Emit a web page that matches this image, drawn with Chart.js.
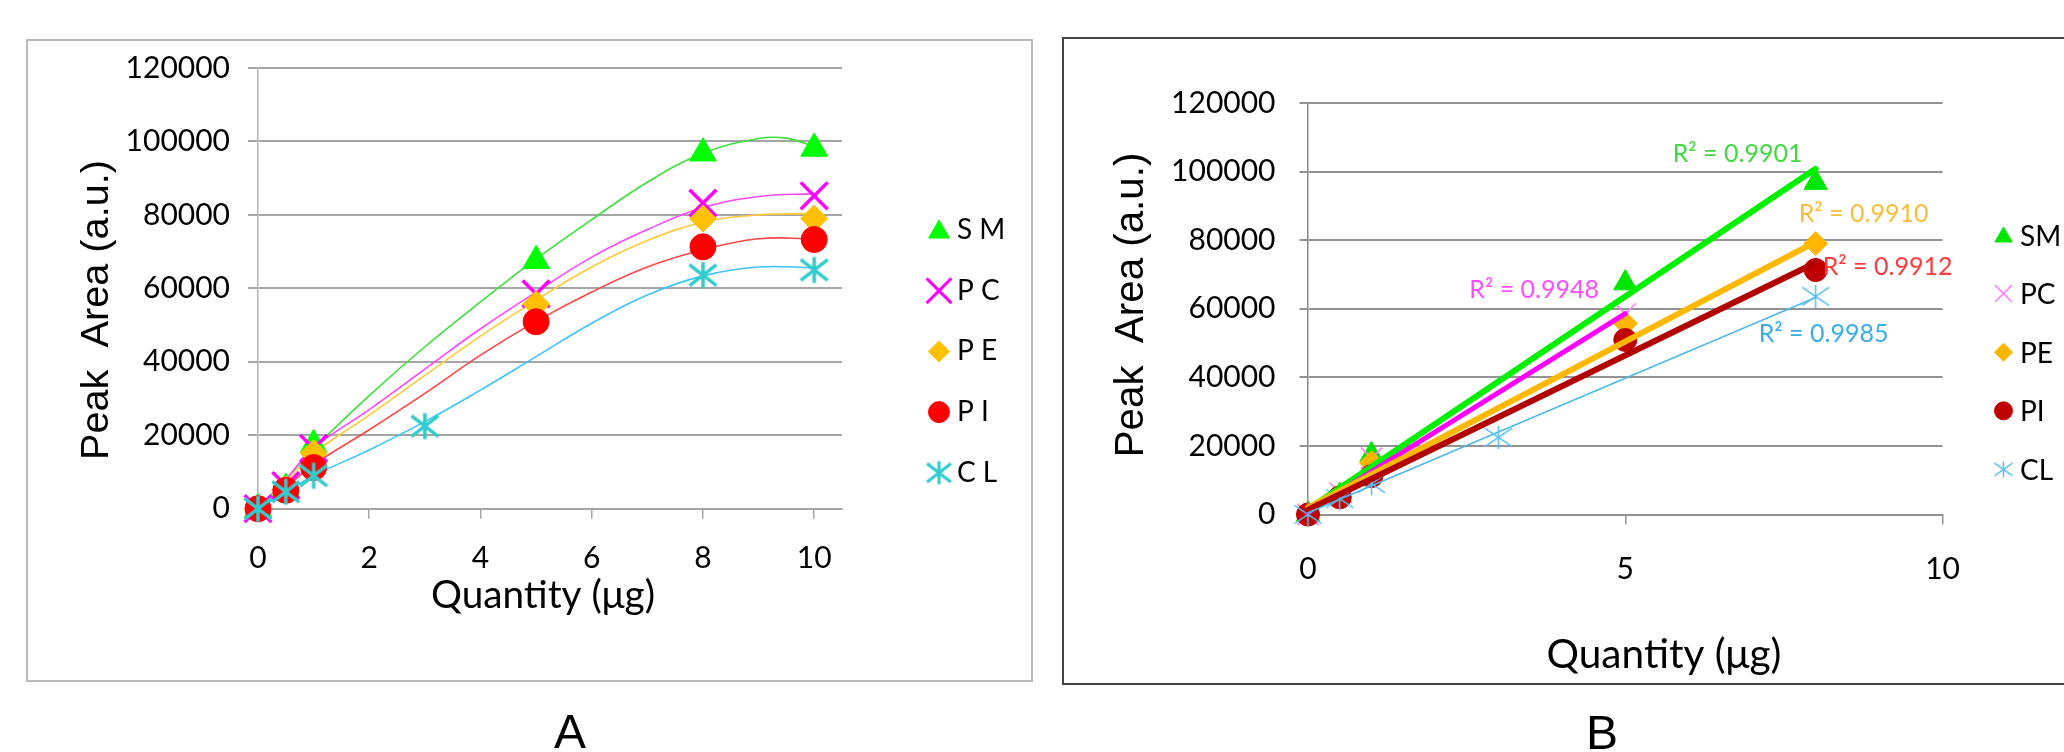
<!DOCTYPE html>
<html lang="en">
<head>
<meta charset="utf-8">
<title>Peak area vs quantity</title>
<script src="https://cdn.jsdelivr.net/npm/chart.js@4.4.1/dist/chart.umd.min.js"></script>
<style>
  html, body { margin: 0; padding: 0; background: #fff; }
  body { width: 2064px; height: 752px; position: relative; overflow: hidden; font-family: "Liberation Sans", Arial, sans-serif; }
  .frame { position: absolute; box-sizing: border-box; }
  #frameA { left: 26px; top: 39px; width: 1007px; height: 643px; border: 2px solid #b9b9b9; }
  #frameB { left: 1062px; top: 37px; width: 1100px; height: 648px; border: 2px solid #444; }
  canvas { position: absolute; top: 0; }
  #chartA { left: 0; }
  #chartB { left: 1040px; }
  .tag { position: absolute; font-size: 48px; line-height: 48px; color: #000; }
</style>
</head>
<body>
  <div class="frame" id="frameA"></div>
  <div class="frame" id="frameB"></div>
  <canvas id="chartA" width="1040" height="752"></canvas>
  <canvas id="chartB" width="1024" height="752"></canvas>
  <div class="tag" style="left:520px; width:100px; text-align:center; top:708px;">A</div>
  <div class="tag" style="left:1586px; top:709px;">B</div>

<script>
// ---- values ----
const names = ['SM', 'PC', 'PE', 'PI', 'CL'];
const legendA = ['S M', 'P C', 'P E', 'P I', 'C L'];

const qtyA = [0, 0.5, 1, 5, 8, 10];      // SM, PC, PE, PI
const qtyCL = [0, 0.5, 1, 3, 8, 10];
const smArea = [0, 5500, 17400, 67500, 96800, 98100];
const pcArea = [0, 6300, 16400, 58500, 83200, 85200];
const peArea = [0, 5300, 15100, 55700, 79000, 79000];
const piArea = [0, 5000, 11200, 50900, 71300, 73300];
const clArea = [0, 4600, 9000, 22500, 63600, 65000];

// fitted curves of panel A, sampled from the figure
const smCurveX = [0, 0.5, 1, 2, 3, 4, 5, 6, 7, 8, 9, 9.5, 10];
const smCurve = [0, 8000, 16300, 30800, 44100, 56300, 68000, 78700, 88900, 96800, 100800, 100900, 98600];
const curveX = [0, 0.5, 1, 2, 3, 4, 5, 6, 7, 8, 9, 10];
const pcCurve = [0, 8000, 16500, 27000, 38000, 49000, 59000, 68500, 76000, 82000, 85000, 85800];
const peCurve = [0, 7300, 15000, 25500, 36300, 47000, 56800, 65800, 73000, 78000, 80000, 80300];
const piCurve = [0, 5800, 12000, 21500, 31400, 41800, 51000, 59000, 65800, 70500, 73500, 73500];
const clCurve = [0, 4500, 9000, 16000, 23700, 32300, 41400, 50500, 58200, 63400, 65800, 65600];

// panel B: points up to 8 µg and the linear trend lines
const qtyB = [0, 0.5, 1, 5, 8];
const qtyPcB = [0, 0.5, 1, 5];
const qtyClB = [0, 0.5, 1, 3, 8];
const smTrendX = [0, 8], smTrend = [1500, 100800];
const pcTrendX = [0, 5], pcTrend = [1000, 58600];
const peTrendX = [0, 8], peTrend = [2000, 79500];
const piTrendX = [0, 8], piTrend = [1400, 73400];
const clTrendX = [0, 8], clTrend = [500, 63300];
const r2Text = ['R\u00b2 = 0.9901', 'R\u00b2 = 0.9948', 'R\u00b2 = 0.9910', 'R\u00b2 = 0.9912', 'R\u00b2 = 0.9985'];

const yTicks = [0, 20000, 40000, 60000, 80000, 100000, 120000];
const xTicksA = [0, 2, 4, 6, 8, 10];
const xTicksB = [0, 5, 10];

const pts = (xs, ys) => xs.map((x, i) => ({ x: x, y: ys[i] }));

// 6-spoke asterisk marker (vertical bar + X)
function asterisk(w, h, color, lw) {
  const c = document.createElement('canvas');
  c.width = Math.ceil(w + lw * 2);
  c.height = Math.ceil(h + lw * 2);
  const g = c.getContext('2d');
  const cx = c.width / 2, cy = c.height / 2;
  g.strokeStyle = color;
  g.lineWidth = lw;
  g.beginPath();
  g.moveTo(cx, cy - h / 2); g.lineTo(cx, cy + h / 2);
  g.moveTo(cx - w / 2, cy - h * 0.4); g.lineTo(cx + w / 2, cy + h * 0.4);
  g.moveTo(cx + w / 2, cy - h * 0.4); g.lineTo(cx - w / 2, cy + h * 0.4);
  g.stroke();
  return c;
}

// pick a font size so that the text spans the wanted width
function fitFont(ctx, t) {
  ctx.font = t.size + 'px ' + t.family;
  const w = ctx.measureText(t.text).width;
  if (t.width && w > 0) ctx.font = (t.size * t.width / w).toFixed(1) + 'px ' + t.family;
}

// titles, legend and R² labels drawn on the canvas
function decor(cfg) {
  return {
    id: 'decor',
    afterDatasetsDraw(chart) {
      const ctx = chart.ctx;
      ctx.save();
      ctx.fillStyle = '#000';
      ctx.textBaseline = 'alphabetic';

      ctx.save();
      fitFont(ctx, cfg.yTitle);
      ctx.textAlign = 'center';
      ctx.translate(cfg.yTitle.x, cfg.yTitle.y);
      ctx.rotate(-Math.PI / 2);
      ctx.fillText(cfg.yTitle.text, 0, 0);
      ctx.restore();

      fitFont(ctx, cfg.xTitle);
      ctx.textAlign = 'center';
      ctx.fillText(cfg.xTitle.text, cfg.xTitle.x, cfg.xTitle.y);

      // legend
      const lg = cfg.legend;
      lg.items.forEach((it, i) => {
        const y = lg.y0 + i * lg.step;
        ctx.save();
        ctx.fillStyle = it.color;
        ctx.strokeStyle = it.color;
        ctx.lineWidth = it.lw;
        Chart.helpers.drawPoint(ctx, { pointStyle: it.style, rotation: 0, radius: it.r, borderWidth: it.lw }, lg.x, y + (it.dy || 0));
        ctx.restore();
        ctx.font = lg.font;
        ctx.textAlign = 'left';
        ctx.fillStyle = '#000';
        ctx.fillText(it.text, lg.textX, y + lg.baseline);
      });

      // R² labels, placed next to the end of each trend line
      (cfg.labels || []).forEach(lb => {
        const xs = chart.scales.x, ys = chart.scales.y;
        const px = xs.getPixelForValue(lb.x) + lb.dx;
        const py = ys.getPixelForValue(lb.y) + lb.dy;
        ctx.font = lb.font;
        ctx.textAlign = 'left';
        ctx.textBaseline = 'middle';
        ctx.fillStyle = lb.color;
        ctx.fillText(lb.text, px, py);
      });
      ctx.restore();
    }
  };
}

function axes(o) {
  return {
    x: {
      type: 'linear', min: 0, max: o.xMax,
      afterBuildTicks: s => { s.ticks = o.xTicks.map(v => ({ value: v })); },
      afterFit: s => { s.height = 752 - o.bottom; },
      grid: { drawOnChartArea: false, drawTicks: true, tickLength: 10, color: o.grid, lineWidth: 1.5 },
      border: { color: o.grid, width: 2 },
      ticks: { padding: o.xPad, color: '#000', font: { family: 'Lato', size: 30 }, maxRotation: 0 }
    },
    y: {
      type: 'linear', min: 0, max: 120000,
      afterBuildTicks: s => { s.ticks = yTicks.map(v => ({ value: v })); },
      afterFit: s => { s.width = o.left; },
      grid: { color: o.grid, lineWidth: 2, tickLength: o.tick, drawTicks: true },
      border: { color: o.axis, width: 1.5 },
      ticks: { padding: o.yPad, color: '#000', font: { family: 'Lato', size: 30 }, callback: v => String(v) }
    }
  };
}

const baseOpts = {
  responsive: false,
  animation: false,
  events: [],
  plugins: { legend: { display: false }, tooltip: { enabled: false } }
};

// ---------- panel A ----------
const curveStyle = (data, color, order) => ({
  data: data, showLine: true, pointRadius: 0, borderColor: color, borderWidth: 1.6,
  tension: 0.4, order: order
});
const starA = asterisk(27, 26, '#33cccc', 3.5);
const starALeg = asterisk(24, 23, '#33cccc', 3.2);

new Chart(document.getElementById('chartA'), {
  type: 'scatter',
  data: {
    datasets: [
      curveStyle(pts(smCurveX, smCurve), '#3ddf3d', 20),
      curveStyle(pts(curveX, pcCurve), '#ff45ff', 19),
      curveStyle(pts(curveX, peCurve), '#ffc93a', 18),
      curveStyle(pts(curveX, piCurve), '#ff4545', 17),
      curveStyle(pts(curveX, clCurve), '#3cc4ff', 16),
      { data: pts(qtyA, smArea), pointStyle: 'triangle', pointRadius: 15.5, backgroundColor: '#00ff00', borderColor: '#00ff00', borderWidth: 1, clip: false, order: 15 },
      { data: pts(qtyA, pcArea), pointStyle: 'crossRot', pointRadius: 19, backgroundColor: '#ff00ff', borderColor: '#ff00ff', borderWidth: 3.5, clip: false, order: 14 },
      { data: pts(qtyA, peArea), pointStyle: 'rectRot', pointRadius: 13.5, backgroundColor: '#ffc000', borderColor: '#ffc000', borderWidth: 1, clip: false, order: 13 },
      { data: pts(qtyA, piArea), pointStyle: 'circle', pointRadius: 13, backgroundColor: '#ff0000', borderColor: '#ff0000', borderWidth: 1, clip: false, order: 12 },
      { data: pts(qtyCL, clArea), pointStyle: starA, pointRadius: 13, backgroundColor: '#33cccc', borderColor: '#33cccc', clip: false, order: 11 }
    ]
  },
  options: Object.assign({}, baseOpts, {
    layout: { padding: { left: 0, top: 68, right: 1040 - 842, bottom: 0 } },
    scales: axes({ xMax: 10.5, xTicks: xTicksA, bottom: 508.7, left: 258, tick: 10, yPad: 18, xPad: 22, grid: '#a5a5a5', axis: '#b3b3b3' })
  }),
  plugins: [decor({
    yTitle: { text: 'Peak  Area (a.u.)', family: '"Liberation Sans", Arial, sans-serif', size: 40, width: 300, x: 108, y: 310 },
    xTitle: { text: 'Quantity (\u03bcg)', family: 'Lato, sans-serif', size: 40, width: 224, x: 543, y: 608 },
    legend: {
      x: 939, textX: 957, y0: 230, step: 60.7, baseline: 9, font: '28px Lato, sans-serif',
      items: [
        { text: legendA[0], style: 'triangle', r: 12, color: '#00ff00', lw: 1, dy: 2 },
        { text: legendA[1], style: 'crossRot', r: 17.5, color: '#ff00ff', lw: 3 },
        { text: legendA[2], style: 'rectRot', r: 10.5, color: '#ffc000', lw: 1 },
        { text: legendA[3], style: 'circle', r: 10.5, color: '#ff0000', lw: 1 },
        { text: legendA[4], style: starALeg, r: 12, color: '#33cccc', lw: 1 }
      ]
    }
  })]
});

// ---------- panel B ----------
const trendStyle = (xs, ys, color, w, order) => ({
  data: pts(xs, ys), showLine: true, pointRadius: 0, borderColor: color, borderWidth: w,
  borderCapStyle: 'round', clip: false, order: order
});
const starB = asterisk(27, 23, '#5bbff0', 1.6);
const starBLeg = asterisk(18, 16, '#5bbff0', 1.5);

new Chart(document.getElementById('chartB'), {
  type: 'scatter',
  data: {
    datasets: [
      { data: pts(qtyB, smArea.slice(0, 5)), pointStyle: 'triangle', pointRadius: 13.5, backgroundColor: '#00e600', borderColor: '#00e600', borderWidth: 1, clip: false, order: 20 },
      { data: pts(qtyPcB, pcArea.slice(0, 4)), pointStyle: 'crossRot', pointRadius: 15, backgroundColor: '#ff80ff', borderColor: '#ff80ff', borderWidth: 1.6, clip: false, order: 19 },
      { data: pts(qtyB, peArea.slice(0, 5)), pointStyle: 'rectRot', pointRadius: 12, backgroundColor: '#ffb400', borderColor: '#ffb400', borderWidth: 1, clip: false, order: 18 },
      { data: pts(qtyB, piArea.slice(0, 5)), pointStyle: 'circle', pointRadius: 11.5, backgroundColor: '#c00000', borderColor: '#c00000', borderWidth: 1, clip: false, order: 17 },
      { data: pts(qtyClB, clArea.slice(0, 5)), pointStyle: starB, pointRadius: 13, backgroundColor: '#5bbff0', borderColor: '#5bbff0', clip: false, order: 16 },
      trendStyle(smTrendX, smTrend, '#00f000', 6, 15),
      trendStyle(pcTrendX, pcTrend, '#ff00ff', 5, 14),
      trendStyle(peTrendX, peTrend, '#ffb800', 6, 13),
      trendStyle(piTrendX, piTrend, '#b00000', 6, 12),
      trendStyle(clTrendX, clTrend, '#4db8ea', 1.6, 11)
    ]
  },
  options: Object.assign({}, baseOpts, {
    layout: { padding: { left: 0, top: 103, right: 1024 - 902.6, bottom: 0 } },
    scales: axes({ xMax: 10, xTicks: xTicksB, bottom: 514.5, left: 268, tick: 8.5, yPad: 24, xPad: 26.5, grid: '#939393', axis: '#8a8a8a' })
  }),
  plugins: [decor({
    yTitle: { text: 'Peak  Area (a.u.)', family: '"Liberation Sans", Arial, sans-serif', size: 40, width: 305, x: 103, y: 305 },
    xTitle: { text: 'Quantity (\u03bcg)', family: 'Lato, sans-serif', size: 41, width: 235, x: 624, y: 668 },
    legend: {
      x: 963.5, textX: 980, y0: 235, step: 58.6, baseline: 10.5, font: '28px Lato, sans-serif',
      items: [
        { text: names[0], style: 'triangle', r: 10, color: '#00e600', lw: 1, dy: 2 },
        { text: names[1], style: 'crossRot', r: 12, color: '#ff80ff', lw: 1.5 },
        { text: names[2], style: 'rectRot', r: 9, color: '#ffb400', lw: 1 },
        { text: names[3], style: 'circle', r: 9, color: '#c00000', lw: 1 },
        { text: names[4], style: starBLeg, r: 9, color: '#5bbff0', lw: 1 }
      ]
    },
    labels: [
      { text: r2Text[0], x: smTrendX[1], y: smTrend[1], dx: -143, dy: -15, color: '#3fd93f', font: '25px Lato, sans-serif' },
      { text: r2Text[1], x: pcTrendX[1], y: pcTrend[1], dx: -156, dy: -24, color: '#ff4cff', font: '25px Lato, sans-serif' },
      { text: r2Text[2], x: peTrendX[1], y: peTrend[1], dx: -17, dy: -28, color: '#f7bd3a', font: '25px Lato, sans-serif' },
      { text: r2Text[3], x: piTrendX[1], y: piTrend[1], dx: 7, dy: 4, color: '#ff3a3a', font: '25px Lato, sans-serif' },
      { text: r2Text[4], x: clTrendX[1], y: clTrend[1], dx: -57, dy: 37, color: '#37aee8', font: '25px Lato, sans-serif' }
    ]
  })]
});
</script>
</body>
</html>
